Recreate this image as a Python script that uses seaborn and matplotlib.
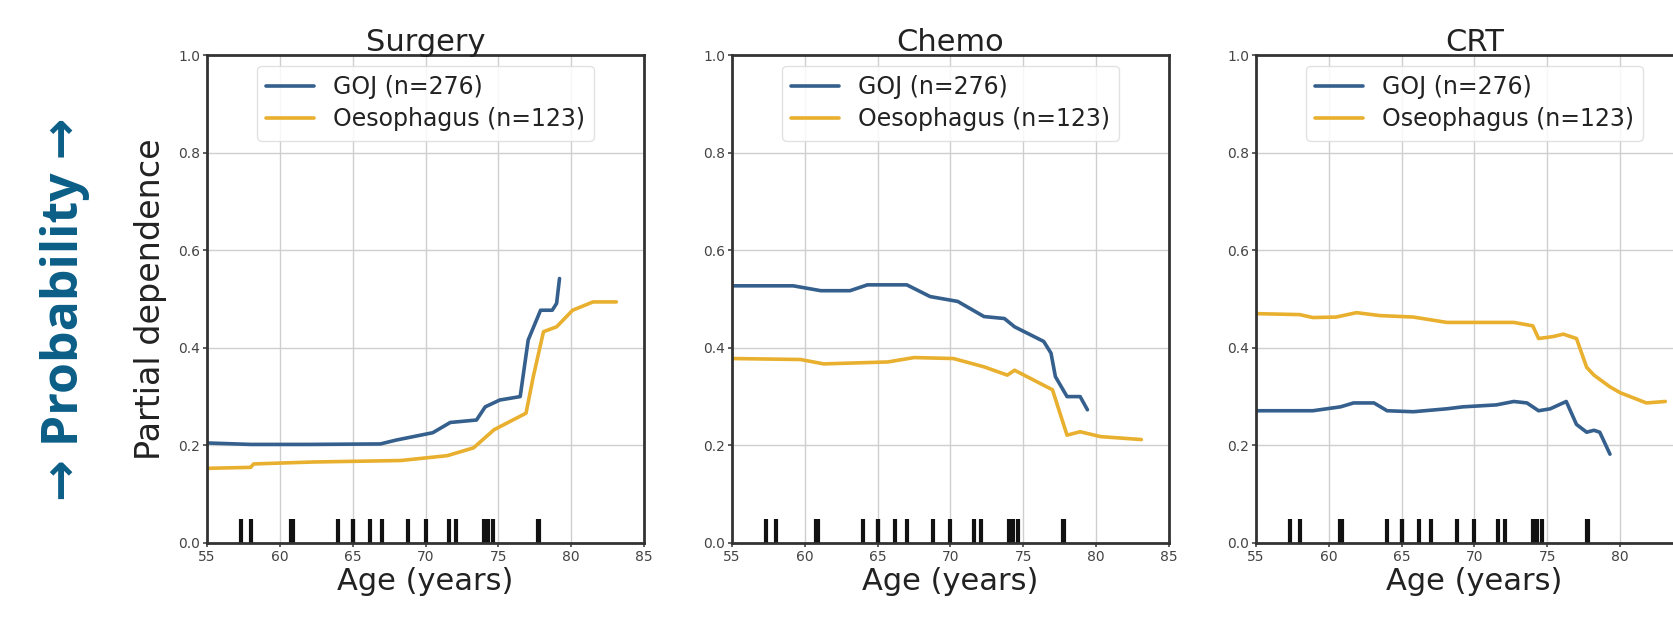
import matplotlib
matplotlib.use("Agg")
import matplotlib.pyplot as plt
import seaborn as sns
import pandas as pd

# ---------------- data ----------------
panels = ["Surgery", "Chemo", "CRT"]
goj_label = "GOJ (n=276)"
oes_labels = ["Oesophagus (n=123)", "Oesophagus (n=123)", "Oseophagus (n=123)"]

surg_goj_age = [55.0, 58.0, 62.0, 66.9, 68.0, 70.5, 71.7, 73.5, 74.1, 75.1, 76.5, 77.05, 77.9, 78.7, 79.0, 79.2]
surg_goj_pd = [0.205, 0.202, 0.202, 0.203, 0.211, 0.226, 0.247, 0.252, 0.279, 0.293, 0.300, 0.416, 0.477, 0.477, 0.491, 0.542]
surg_oes_age = [55.0, 58.0, 58.2, 62.3, 68.3, 71.5, 73.3, 74.7, 76.9, 77.4, 78.1, 79.0, 80.1, 81.5, 83.1]
surg_oes_pd = [0.153, 0.155, 0.162, 0.166, 0.169, 0.179, 0.195, 0.232, 0.266, 0.341, 0.433, 0.443, 0.477, 0.494, 0.494]

chemo_goj_age = [55.0, 59.2, 61.1, 63.1, 64.3, 67.0, 68.6, 70.5, 72.3, 73.7, 74.4, 76.4, 76.9, 77.2, 78.0, 78.9, 79.4]
chemo_goj_pd = [0.527, 0.527, 0.517, 0.517, 0.529, 0.529, 0.505, 0.495, 0.464, 0.460, 0.443, 0.413, 0.389, 0.341, 0.300, 0.300, 0.273]
chemo_oes_age = [55.0, 59.7, 61.3, 65.7, 67.5, 70.2, 72.3, 73.9, 74.4, 75.7, 77.0, 78.0, 78.9, 80.3, 83.1]
chemo_oes_pd = [0.378, 0.376, 0.367, 0.371, 0.380, 0.378, 0.361, 0.344, 0.354, 0.334, 0.314, 0.221, 0.228, 0.218, 0.212]

crt_goj_age = [55.0, 58.9, 60.8, 61.7, 63.1, 64.0, 65.8, 68.1, 69.2, 71.5, 72.7, 73.6, 74.4, 75.2, 76.3, 77.0, 77.7, 78.2, 78.6, 79.3]
crt_goj_pd = [0.271, 0.271, 0.279, 0.287, 0.287, 0.271, 0.269, 0.275, 0.279, 0.283, 0.290, 0.287, 0.271, 0.275, 0.290, 0.243, 0.227, 0.231, 0.227, 0.182]
crt_oes_age = [55.0, 58.0, 58.9, 60.5, 61.9, 63.5, 65.8, 68.1, 72.7, 74.0, 74.4, 75.4, 76.1, 77.0, 77.7, 78.2, 79.3, 80.0, 81.8, 83.1]
crt_oes_pd = [0.470, 0.468, 0.462, 0.463, 0.472, 0.466, 0.463, 0.452, 0.452, 0.445, 0.419, 0.423, 0.428, 0.419, 0.360, 0.344, 0.320, 0.308, 0.287, 0.290]

deciles = [57.3, 58.0, 60.8, 60.9, 64.0, 65.0, 65.05, 66.2, 67.0, 68.8, 70.0, 71.6, 72.1, 74.0, 74.3, 74.6, 77.7, 77.8]

x_ticks = [55, 60, 65, 70, 75, 80, 85]
y_ticks = [0.0, 0.2, 0.4, 0.6, 0.8, 1.0]

series = [
    (surg_goj_age, surg_goj_pd, surg_oes_age, surg_oes_pd),
    (chemo_goj_age, chemo_goj_pd, chemo_oes_age, chemo_oes_pd),
    (crt_goj_age, crt_goj_pd, crt_oes_age, crt_oes_pd),
]

# ---------------- style ----------------
sns.set_theme(style="whitegrid")
plt.rcParams["font.family"] = ["DejaVu Sans"]

GOJ_C = "#355f8c"
OES_C = "#e8b02e"
W, H = 1674, 618
fig = plt.figure(figsize=(W / 100, H / 100), dpi=100)
fig.patch.set_facecolor("white")

lefts = [207, 732, 1256]
bottom_px, top_px = 543, 55
width_px = 437

for i, (name, (ga, gp, oa, op)) in enumerate(zip(panels, series)):
    ax = fig.add_axes([lefts[i] / W, (H - bottom_px) / H, width_px / W, (bottom_px - top_px) / H])
    ax.set_facecolor("white")
    df_g = pd.DataFrame({"age": ga, "pd": gp})
    df_o = pd.DataFrame({"age": oa, "pd": op})
    sns.lineplot(data=df_g, x="age", y="pd", ax=ax, color=GOJ_C, linewidth=2.6, label=goj_label)
    sns.lineplot(data=df_o, x="age", y="pd", ax=ax, color=OES_C, linewidth=2.6, label=oes_labels[i])
    sns.rugplot(x=deciles, ax=ax, height=0.05, color="#111111", linewidth=3.0, expand_margins=False)
    ax.set_xlim(55, 85)
    ax.set_ylim(0, 1)
    ax.set_xticks(x_ticks)
    ax.set_yticks(y_ticks)
    # the right panel runs past the figure edge, so its last label is not visible
    xt_labels = [str(t) for t in x_ticks]
    if i == 2:
        xt_labels[-1] = ""
    ax.set_xticklabels(xt_labels)
    ax.set_yticklabels([f"{t:.1f}" for t in y_ticks])
    ax.tick_params(axis="both", labelsize=10, colors="#444444", length=3, width=1.2,
                   direction="out", pad=2, left=True, bottom=True)
    ax.grid(True, color="#cfcfcf", lw=1.0)
    for sp in ax.spines.values():
        sp.set_visible(True)
        sp.set_color("#333333")
        sp.set_linewidth(2.0)
    ax.set_title(name, fontsize=22, pad=3, color="#222222")
    ax.set_xlabel("Age (years)", fontsize=22, color="#222222", labelpad=2)
    if i == 0:
        ax.set_ylabel("Partial dependence", fontsize=24, color="#222222", labelpad=8)
    else:
        ax.set_ylabel("")
    leg = ax.legend(loc="upper center", fontsize=17, frameon=True, framealpha=0.85,
                    edgecolor="#dddddd", handlelength=2.0, borderaxespad=0.45,
                    labelspacing=0.35)
    leg.get_frame().set_linewidth(1.0)
    for t in leg.get_texts():
        t.set_color("#222222")

fig.text(65 / W, 1 - 309 / H, "→ Probability →", rotation=90, fontsize=36,
         fontweight="bold", color="#0b5e87", ha="center", va="center",
         family=["Open Sans", "DejaVu Sans"])

fig.savefig("out.png", dpi=100, facecolor="white")
